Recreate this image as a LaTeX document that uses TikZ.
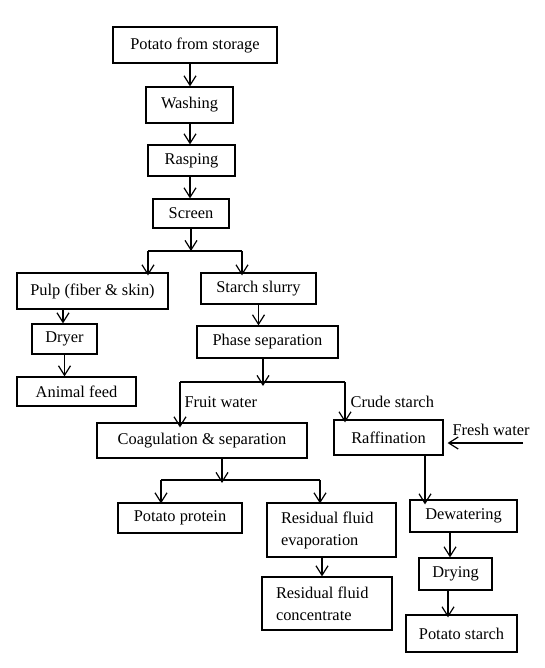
\documentclass[tikz,border=0pt]{standalone}
\usepackage{fontspec}
\setmainfont{Liberation Serif}
\usetikzlibrary{arrows.meta}
\begin{document}
\begin{tikzpicture}[x=1pt,y=-1pt,
  line width=1.2pt,
  every node/.style={font=\fontsize{16.4}{22}\selectfont},
  box/.style={draw, rectangle, inner sep=2pt},
  arr/.style={-{Straight Barb[length=9.5pt,width=12pt,line width=1.2pt]}},
  lbl/.style={anchor=west, inner sep=0pt}]
\useasboundingbox (0,0) rectangle (544,668);
% boxes
\node[box, minimum width=164pt, minimum height=36pt] (storage) at (195,45) {Potato from storage};
\node[box, minimum width=87pt, minimum height=36pt] (washing) at (189.5,105) {Washing};
\node[box, minimum width=87pt, minimum height=31pt] (rasping) at (191.5,160.5) {Rasping};
\node[box, minimum width=76pt, minimum height=29pt] (screen) at (191,213.5) {Screen};
\node[box, minimum width=151pt, minimum height=36pt] (pulp) at (92.5,291) {Pulp (fiber \& skin)};
\node[box, minimum width=115pt, minimum height=31pt] (slurry) at (258.5,288.5) {Starch slurry};
\node[box, minimum width=65pt, minimum height=30pt] (dryer) at (64.5,339) {Dryer};
\node[box, minimum width=119pt, minimum height=29pt] (feed) at (76.5,391.5) {Animal feed};
\node[box, minimum width=141pt, minimum height=32pt] (phase) at (267.5,342) {Phase separation};
\node[box, minimum width=210pt, minimum height=35pt] (coag) at (202,440.5) {Coagulation \& separation};
\node[box, minimum width=109pt, minimum height=35pt] (raff) at (388.5,437.5) {Raffination};
\node[box, minimum width=124pt, minimum height=30pt] (protein) at (180,518) {Potato protein};
\node[box, minimum width=129pt, minimum height=54pt, text width=101pt, align=flush left] (evap) at (331.5,530) {Residual fluid\\evaporation};
\node[box, minimum width=130pt, minimum height=53pt, text width=102pt, align=flush left] (conc) at (327,603.5) {Residual fluid\\concentrate};
\node[box, minimum width=107pt, minimum height=32pt] (dewat) at (463.5,516) {Dewatering};
\node[box, minimum width=73pt, minimum height=32pt] (drying) at (455.5,574) {Drying};
\node[box, minimum width=111pt, minimum height=37pt] (pstarch) at (461.5,633.5) {Potato starch};
% labels
\node[lbl] (fruit) at (184,402) {Fruit water};
\node[lbl] (crude) at (350,402) {Crude starch};
\node[lbl] (fresh) at (452,430) {Fresh water};
% junction coordinates
\coordinate (j1) at (191,251);
\coordinate (j1l) at (148,251);
\coordinate (j1r) at (242,251);
\coordinate (j2) at (263,382);
\coordinate (j2l) at (180,382);
\coordinate (j2r) at (345,382);
\coordinate (j3) at (222,480);
\coordinate (j3l) at (161,480);
\coordinate (j3r) at (320,480);
\coordinate (fw) at (523,443);
% connectors
\draw[arr] ([xshift=-5pt]storage.south) -- ([xshift=-5pt]storage.south |- washing.north);
\draw[arr] ([xshift=0.5pt]washing.south) -- ([xshift=0.5pt]washing.south |- rasping.north);
\draw[arr] ([xshift=-1.5pt]rasping.south) -- ([xshift=-1.5pt]rasping.south |- screen.north);
\draw[arr] (screen.south) -- (j1);
\draw (j1l) -- (j1r);
\draw[arr] (j1l) -- ([yshift=-3pt]j1l |- pulp.north);
\draw[arr] (j1r) -- ([yshift=-3pt]j1r |- slurry.north);
\draw[arr] ([xshift=-29.5pt]pulp.south) -- ([xshift=-29.5pt]pulp.south |- dryer.north);
\draw[arr] (dryer.south) -- (dryer.south |- feed.north);
\draw[arr] (slurry.south) -- (slurry.south |- phase.north);
\draw[arr] ([xshift=-4.5pt]phase.south) -- ([yshift=-4pt]j2);
\draw (j2l) -- (j2r);
\draw[arr] (j2l) -- ([yshift=-5pt]j2l |- coag.north);
\draw[arr] (j2r) -- ([yshift=-3pt]j2r |- raff.north);
\draw[arr] (fw) -- ([xshift=4pt]raff.east |- fw);
\draw[arr] (coag.south -| j3) -- ([yshift=-3pt]j3);
\draw (j3l) -- (j3r);
\draw[arr] (j3l) -- ([yshift=-1pt]j3l |- protein.north);
\draw[arr] (j3r) -- ([yshift=-1pt]j3r |- evap.north);
\draw[arr] ([xshift=36.5pt]raff.south) -- ([xshift=36.5pt, yshift=-5pt]raff.south |- dewat.north);
\draw[arr] ([xshift=-13.5pt]dewat.south) -- ([xshift=-13.5pt]dewat.south |- drying.north);
\draw[arr] ([xshift=-7.5pt]drying.south) -- ([xshift=-7.5pt, yshift=-3pt]drying.south |- pstarch.north);
\draw[arr] ([xshift=-9.5pt]evap.south) -- ([xshift=-9.5pt]evap.south |- conc.north);
\end{tikzpicture}
\end{document}
